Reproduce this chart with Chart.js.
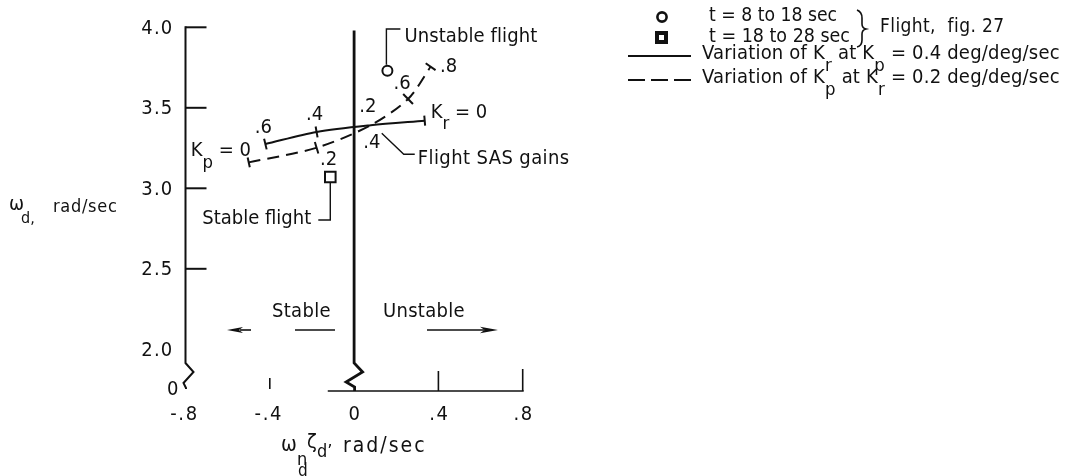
<!DOCTYPE html>
<html>
<head>
<meta charset="utf-8">
<script src="https://cdn.jsdelivr.net/npm/chart.js@4.4.0/dist/chart.umd.min.js"></script>
<style>
  html, body { margin: 0; padding: 0; background: #fff; }
  #wrap { width: 1075px; height: 476px; position: relative; }
</style>
</head>
<body>
<div id="wrap"><canvas id="c" width="1075" height="476"></canvas></div>
<script>
// Axis ticks
const xTickValues = [-0.8, -0.4, 0, 0.4, 0.8];
const xTickLabels = ['-.8', '-.4', '0', '.4', '.8'];
const yTickValues = [2.0, 2.5, 3.0, 3.5, 4.0];
const yTickLabels = ['2.0', '2.5', '3.0', '3.5', '4.0'];
const yBreakLabel = '0';

// Flight data (fig. 27)
const unstableFlight = [{ x: 0.158, y: 3.73 }];   // t = 8 to 18 sec
const stableFlight = [{ x: -0.113, y: 3.07 }];    // t = 18 to 28 sec

// Variation of Kr at Kp = 0.4 deg/deg/sec
const krGains = ['.6', '.4', '.2', '0'];
const krDamping = [-0.421, -0.178, 0.079, 0.335];
const krFrequency = [3.275, 3.35, 3.392, 3.42];

// Variation of Kp at Kr = 0.2 deg/deg/sec
const kpGains = ['0', '.2', '.4', '.6', '.8'];
const kpDamping = [-0.50, -0.178, 0.079, 0.256, 0.363];
const kpFrequency = [3.161, 3.252, 3.392, 3.555, 3.755];

const INK = '#111';
const FONT = '"DejaVu Sans Condensed", "DejaVu Sans", sans-serif';

const toPoints = (xs, ys) => xs.map((x, i) => ({ x, y: ys[i] }));

function setFont(ctx, size, spacing) {
  ctx.font = size + 'px ' + FONT;
  ctx.letterSpacing = (spacing || 0) + 'px';
}

function text(ctx, s, x, y, size, align, spacing) {
  setFont(ctx, size, spacing);
  ctx.textAlign = align || 'left';
  ctx.textBaseline = 'middle';
  ctx.fillText(s, x, y);
}

// Text squeezed horizontally into a given width
function fitText(ctx, s, x, y, size, width) {
  setFont(ctx, size, 0);
  ctx.textAlign = 'left';
  ctx.textBaseline = 'middle';
  const w = ctx.measureText(s).width;
  ctx.save();
  ctx.translate(x, y);
  ctx.scale(width / w, 1);
  ctx.fillText(s, 0, 0);
  ctx.restore();
}

// Text run with subscripts: parts = [[str, isSub], ...]
function rich(ctx, parts, x, y, size, spacing, subDrop) {
  let cx = x;
  ctx.textAlign = 'left';
  ctx.textBaseline = 'middle';
  for (const [s, sub] of parts) {
    setFont(ctx, sub ? size * 0.92 : size, spacing);
    ctx.fillText(s, cx, sub ? y + (subDrop || size * 0.62) : y);
    cx += ctx.measureText(s).width;
  }
  return cx;
}

function line(ctx, pts, width) {
  ctx.beginPath();
  ctx.lineWidth = width;
  ctx.moveTo(pts[0][0], pts[0][1]);
  for (let i = 1; i < pts.length; i++) ctx.lineTo(pts[i][0], pts[i][1]);
  ctx.stroke();
}

// Short bar drawn across a curve at one of its points
function crossBar(ctx, px, i, len, width) {
  const a = px[Math.max(0, i - 1)], b = px[Math.min(px.length - 1, i + 1)];
  const dx = b[0] - a[0], dy = b[1] - a[1];
  const d = Math.hypot(dx, dy);
  const nx = -dy / d, ny = dx / d;
  const [x, y] = px[i];
  line(ctx, [[x - nx * len / 2, y - ny * len / 2], [x + nx * len / 2, y + ny * len / 2]], width);
}

function arrowHead(ctx, tipX, y, len, half, dir) {
  ctx.beginPath();
  ctx.moveTo(tipX, y);
  ctx.lineTo(tipX - dir * len, y - half);
  ctx.lineTo(tipX - dir * len * 0.75, y);
  ctx.lineTo(tipX - dir * len, y + half);
  ctx.closePath();
  ctx.fill();
}

const decorations = {
  id: 'decorations',
  afterDatasetsDraw(chart) {
    const ctx = chart.ctx;
    const xs = chart.scales.x, ys = chart.scales.y;
    const X = v => xs.getPixelForValue(v);
    const Y = v => ys.getPixelForValue(v);
    const base = ys.bottom;
    ctx.save();
    ctx.strokeStyle = INK;
    ctx.fillStyle = INK;
    ctx.lineCap = 'butt';
    ctx.lineJoin = 'miter';

    // Left axis with break near the bottom
    const xl = X(-0.8);
    line(ctx, [[xl, Y(4.0) - 1], [xl, base - 28], [xl + 8, base - 19], [xl - 2, base - 8], [xl + 0.5, base - 3], [xl + 0.5, base - 2]], 2);
    // Inward ticks on the left axis
    yTickValues.forEach(v => {
      if (v > 2.2) line(ctx, [[xl, Y(v)], [xl + 21, Y(v)]], 2);
    });
    yTickValues.forEach((v, i) => text(ctx, yTickLabels[i], xl - 12, Y(v) + 1, 20, 'right', 1.2));
    text(ctx, yBreakLabel, xl - 7, base - 1, 20, 'right', 0);

    // Zero-damping line, broken above the base line
    const x0 = X(0);
    line(ctx, [[x0, Y(3.98)], [x0, base - 28], [x0 + 8.5, base - 19], [x0 - 8, base - 9], [x0 + 0.5, base - 4], [x0 + 0.5, base]], 2.8);

    // Base line and its ticks
    line(ctx, [[X(-0.125), base], [X(0.8) + 1, base]], 1.6);
    line(ctx, [[X(0.4), base], [X(0.4), base - 20]], 1.6);
    line(ctx, [[X(0.8), base], [X(0.8), base - 22]], 1.6);
    line(ctx, [[X(-0.4), base - 2], [X(-0.4), base - 13]], 1.6);
    xTickValues.forEach((v, i) => text(ctx, xTickLabels[i], X(v) + (v < 0 ? -1 : 1), base + 24, 20, 'center', 1.6));

    // Axis titles
    rich(ctx, [['ω', false]], 281, 446, 21);
    rich(ctx, [['n', false]], 297, 460, 18);
    rich(ctx, [['d', false]], 298, 472, 17);
    rich(ctx, [['ζ', false]], 307, 443, 20);
    rich(ctx, [['d\u2019', false]], 317, 452, 18);
    text(ctx, 'rad/sec', 343, 447, 21, 'left', 2);

    rich(ctx, [['ω', false]], 9, 205, 20);
    rich(ctx, [['d,', false]], 21, 219, 16);
    text(ctx, 'rad/sec', 53, 207, 18, 'left', 0.7);

    // Curve pixel positions
    const kr = krDamping.map((v, i) => [X(v), Y(krFrequency[i])]);
    const kp = kpDamping.map((v, i) => [X(v), Y(kpFrequency[i])]);

    // End bars and gain marks
    crossBar(ctx, kr, 0, 11, 2);
    crossBar(ctx, kr, 1, 11, 2);
    crossBar(ctx, kr, kr.length - 1, 10, 2);
    crossBar(ctx, kp, 0, 10, 2);
    crossBar(ctx, kp, 1, 12, 2);
    crossBar(ctx, kp, 3, 14, 2);
    crossBar(ctx, kp, kp.length - 1, 12, 2);

    // Gain labels along the curves
    const G = 20;
    text(ctx, krGains[0], kr[0][0] - 2, kr[0][1] - 16, G, 'center');
    text(ctx, krGains[1], kr[1][0] - 2, kr[1][1] - 17, G, 'center');
    text(ctx, krGains[2], kr[2][0] - 3, kr[2][1] - 18, G, 'center');
    rich(ctx, [['K', false], ['r', true], [' = ' + krGains[3], false]], kr[3][0] + 6, kr[3][1] - 8, G, 0, 12);
    rich(ctx, [['K', false], ['p', true], [' = ' + kpGains[0], false]], kp[0][0] - 58, kp[0][1] - 12, G, 0, 13);
    text(ctx, kpGains[1], kp[1][0] + 12, kp[1][1] + 12, G, 'center');
    text(ctx, kpGains[2], kp[2][0] + 1, kp[2][1] + 18, G, 'center');
    text(ctx, kpGains[3], kp[3][0] - 6, kp[3][1] - 15, G, 'center');
    text(ctx, kpGains[4], kp[4][0] + 18, kp[4][1], G, 'center');

    // Callouts
    const u = [X(unstableFlight[0].x), Y(unstableFlight[0].y)];
    line(ctx, [[u[0] - 1, u[1] - 6], [u[0] - 1, 29], [u[0] + 13, 29]], 1.4);
    text(ctx, 'Unstable flight', u[0] + 17, 37, G, 'left', 0.1);

    const s = [X(stableFlight[0].x), Y(stableFlight[0].y)];
    line(ctx, [[s[0], s[1] + 6], [s[0], 220], [s[0] - 12, 220]], 1.4);
    text(ctx, 'Stable flight', s[0] - 128, 219, G, 'left');

    const g = kr[2];
    line(ctx, [[g[0] + 11, g[1] + 8], [g[0] + 33, g[1] + 29], [g[0] + 44, g[1] + 29]], 1.4);
    text(ctx, 'Flight SAS gains', g[0] + 47, g[1] + 34, G, 'left', 0.4);

    // Stable / Unstable arrows
    text(ctx, 'Stable', 272, 312, G, 'left', 0.3);
    text(ctx, 'Unstable', 383, 312, G, 'left', 0.3);
    line(ctx, [[295, 330], [335, 330]], 1.4);
    line(ctx, [[240, 330], [251, 330]], 1.6);
    arrowHead(ctx, 227, 330, 16, 3, -1);
    line(ctx, [[427, 330], [484, 330]], 1.4);
    arrowHead(ctx, 498, 330, 18, 3.2, 1);

    // Key
    ctx.lineWidth = 2.6;
    ctx.beginPath(); ctx.arc(662, 17, 4.6, 0, Math.PI * 2); ctx.stroke();
    ctx.fillRect(655, 31, 13, 13);
    ctx.fillStyle = '#fff'; ctx.fillRect(659, 35, 5, 5); ctx.fillStyle = INK;
    fitText(ctx, 't = 8 to 18 sec', 709, 16, 19, 128);
    fitText(ctx, 't = 18 to 28 sec', 709, 37, 19, 141);
    // brace
    ctx.lineWidth = 1.6;
    ctx.beginPath();
    ctx.moveTo(857, 10);
    ctx.quadraticCurveTo(862, 12, 862, 18);
    ctx.lineTo(862, 24);
    ctx.quadraticCurveTo(862, 28, 866, 29);
    ctx.quadraticCurveTo(862, 30, 862, 34);
    ctx.lineTo(862, 40);
    ctx.quadraticCurveTo(862, 46, 857, 47);
    ctx.stroke();
    text(ctx, 'Flight,  fig. 27', 880, 27, 19, 'left', 0.4);

    line(ctx, [[628, 56], [691, 56]], 2);
    ctx.setLineDash([17, 6]);
    line(ctx, [[628, 80], [691, 80]], 2.2);
    ctx.setLineDash([]);
    rich(ctx, [['Variation of K', false], ['r', true], [' at K', false], ['p', true], [' = 0.4 deg/deg/sec', false]], 702, 54, 20, 0.2, 12);
    rich(ctx, [['Variation of K', false], ['p', true], [' at K', false], ['r', true], [' = 0.2 deg/deg/sec', false]], 702, 78, 20, 0.2, 12);

    ctx.restore();
  }
};

new Chart(document.getElementById('c'), {
  type: 'scatter',
  data: {
    datasets: [
      {
        label: 'Variation of Kr at Kp = 0.4 deg/deg/sec',
        data: toPoints(krDamping, krFrequency),
        showLine: true, borderColor: INK, borderWidth: 2, tension: 0.3,
        pointRadius: 0, fill: false
      },
      {
        label: 'Variation of Kp at Kr = 0.2 deg/deg/sec',
        data: toPoints(kpDamping, kpFrequency),
        showLine: true, borderColor: INK, borderWidth: 2, borderDash: [12, 7], tension: 0.3,
        pointRadius: 0, fill: false
      },
      {
        label: 't = 8 to 18 sec',
        data: unstableFlight,
        pointStyle: 'circle', pointRadius: 5, borderWidth: 2,
        borderColor: INK, backgroundColor: '#fff'
      },
      {
        label: 't = 18 to 28 sec',
        data: stableFlight,
        pointStyle: 'rect', pointRadius: 7.5, borderWidth: 2,
        borderColor: INK, backgroundColor: '#fff'
      }
    ]
  },
  options: {
    responsive: false,
    animation: false,
    events: [],
    layout: { padding: { left: 185.5, right: 552.3, top: 27.3, bottom: 85 } },
    plugins: { legend: { display: false }, tooltip: { enabled: false } },
    scales: {
      x: { type: 'linear', min: -0.8, max: 0.8, display: false },
      y: { type: 'linear', min: 1.741, max: 4.0, display: false }
    }
  },
  plugins: [decorations]
});
</script>
</body>
</html>
